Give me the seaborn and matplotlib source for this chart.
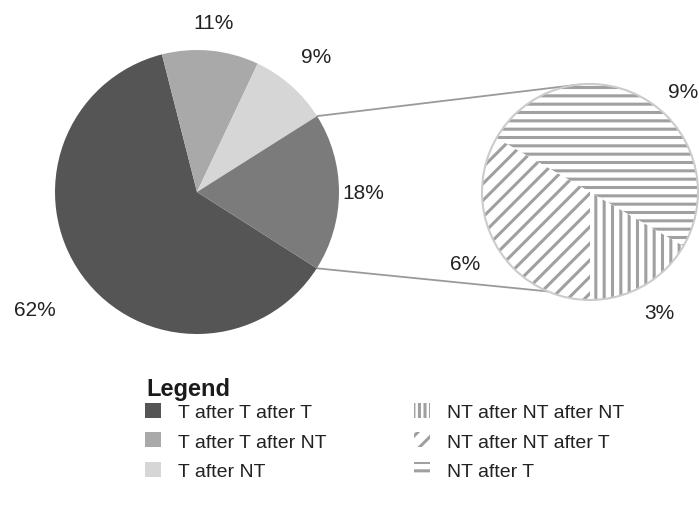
import numpy as np
import matplotlib
matplotlib.use("Agg")
import matplotlib.pyplot as plt
from matplotlib.patches import Patch
import seaborn as sns

# main pie (clockwise from the 62% slice)
main_labels = ["T after T after T", "T after T after NT", "T after NT", "NT (split)"]
main_values = [62, 11, 9, 18]
main_colors = ["#555555", "#a9a9a9", "#d6d6d6", "#7b7b7b"]

# secondary pie: breakdown of the 18% slice
sub_labels = ["NT after NT after NT", "NT after NT after T", "NT after T"]
sub_values = [3, 6, 9]
sub_hatches = ["|||", "//", "--"]

sns.set_theme(style="white")
plt.rcParams["font.family"] = ["Liberation Sans", "DejaVu Sans"]
plt.rcParams["hatch.linewidth"] = 2.2
plt.rcParams["hatch.color"] = "#a0a0a0"

fig = plt.figure(figsize=(6.99, 5.06), dpi=100)
ax = fig.add_axes([0, 0, 1, 1])

main_c, main_r = (197, 313), 142
sub_c, sub_r = (590, 313), 108


def place_labels(texts, wedges, center, r, dists, angles=None):
    # put each percent label at its own distance along the slice's mid angle
    for k, (t, w) in enumerate(zip(texts, wedges)):
        ang = (w.theta1 + w.theta2) / 2 if angles is None or angles[k] is None else angles[k]
        a = np.deg2rad(ang)
        t.set_position((center[0] + r * dists[k] * np.cos(a),
                        center[1] + r * dists[k] * np.sin(a)))
        t.set_horizontalalignment("center")
        t.set_verticalalignment("center")


wedges, texts = ax.pie(
    main_values, colors=main_colors, startangle=-32.5, counterclock=False,
    center=main_c, radius=main_r, labels=[f"{v}%" for v in main_values],
    textprops=dict(fontsize=15, color="#222222"),
    wedgeprops=dict(linewidth=0), frame=True,
)
place_labels(texts, wedges, main_c, main_r, [1.41, 1.2, 1.27, 1.17])

# draw order for secondary: 3% then 9% then 6%, counterclockwise from bottom
order = [0, 2, 1]
sw, stexts = ax.pie(
    [sub_values[i] for i in order], startangle=-90, counterclock=True,
    center=sub_c, radius=sub_r, labels=[f"{sub_values[i]}%" for i in order],
    textprops=dict(fontsize=15, color="#222222"),
    wedgeprops=dict(facecolor="white", edgecolor="#a0a0a0", linewidth=0), frame=True,
)
for w, i in zip(sw, order):
    w.set_hatch(sub_hatches[i].replace("|||", "||"))
place_labels(stexts, sw, sub_c, sub_r, [1.29, 1.27, 1.33], angles=[None, 47, None])
# outline of the secondary pie
ax.add_patch(plt.Circle(sub_c, sub_r, fill=False, ec="#cccccc", lw=1.5))

ax.set_xlim(0, 699)
ax.set_ylim(0, 506)
ax.set_aspect("equal")
ax.axis("off")

# connector lines from the 18% slice to the secondary pie
w18 = wedges[3]
a1, a2 = np.deg2rad(w18.theta2), np.deg2rad(w18.theta1)
b1, b2 = np.deg2rad(95), np.deg2rad(247)
for a, b in [(a1, b1), (a2, b2)]:
    ax.plot([main_c[0] + main_r * np.cos(a), sub_c[0] + sub_r * np.cos(b)],
            [main_c[1] + main_r * np.sin(a), sub_c[1] + sub_r * np.sin(b)],
            color="#9a9a9a", lw=1.3, zorder=0)

fig.text(146 / 699, 1 - 390 / 506, "Legend", fontsize=17, weight="bold",
         color="#1a1a1a", va="center", ha="left")

handles = [Patch(facecolor=c, edgecolor="none") for c in main_colors[:3]]
handles += [Patch(facecolor="white", edgecolor="#a0a0a0", lw=0, hatch=h) for h in sub_hatches]
leg = ax.legend(
    handles, main_labels[:3] + sub_labels, ncol=2, loc="upper left",
    bbox_to_anchor=(145 / 699, 1 - 404 / 506), bbox_transform=fig.transFigure,
    frameon=False, fontsize=14, borderpad=0,
    handlelength=0.8, handleheight=0.8, handletextpad=0.9,
    labelspacing=0.58, columnspacing=4.5, borderaxespad=0,
)
for t in leg.get_texts():
    t.set_color("#222222")

fig.savefig("out.png", dpi=100, facecolor="white")
